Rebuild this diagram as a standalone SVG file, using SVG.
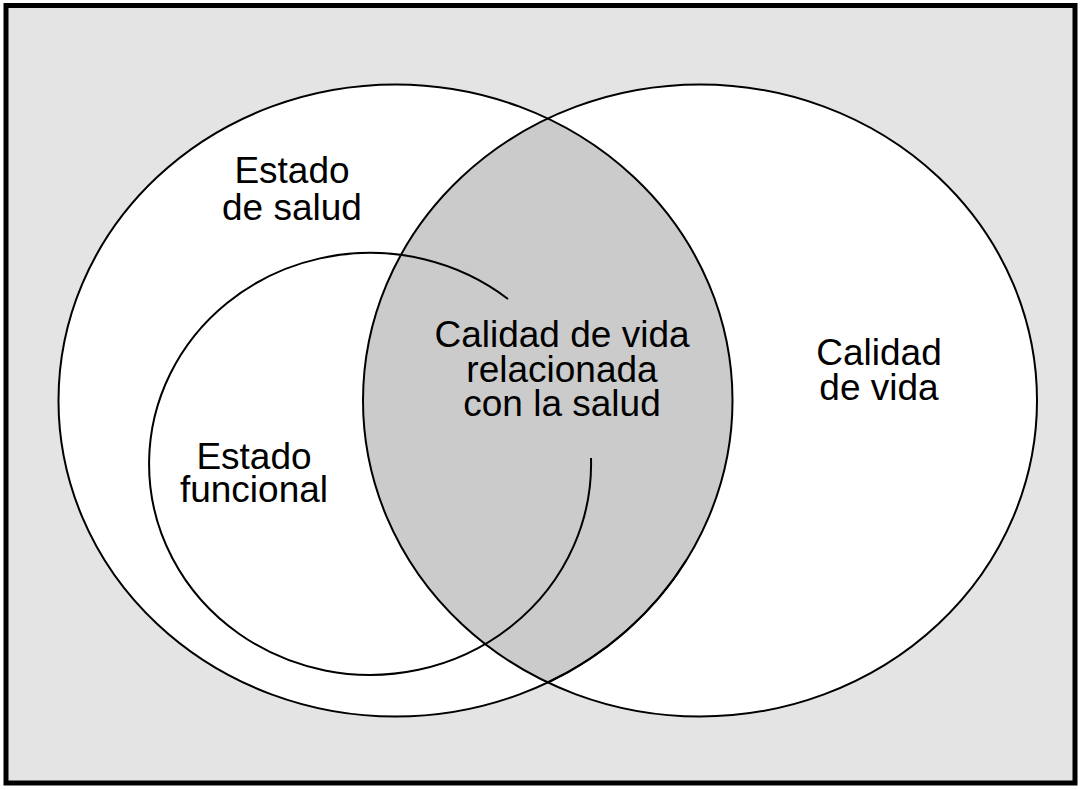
<svg xmlns="http://www.w3.org/2000/svg" width="1081" height="790" viewBox="0 0 1081 790">
<style>
.ln{fill:none;stroke:#000;stroke-width:2}
.lbl{font-family:"Liberation Sans",Arial,sans-serif;font-size:37px;fill:#000;text-anchor:middle}
</style>
<defs>
<clipPath id="clipL"><ellipse cx="395.5" cy="400.5" rx="337" ry="316"/></clipPath>
</defs>
<rect id="frame" x="6" y="5.5" width="1069" height="777.5" fill="#e4e4e4" stroke="#000" stroke-width="5"/>
<g id="fills">
<ellipse cx="395.5" cy="400.5" rx="337" ry="316" fill="#fff"/>
<ellipse cx="700" cy="400.5" rx="337" ry="316" fill="#fff"/>
<ellipse cx="700" cy="400.5" rx="337" ry="316" fill="#cbcbcb" clip-path="url(#clipL)"/>
</g>
<g id="estado-salud">
<ellipse class="ln" cx="395.5" cy="400.5" rx="337" ry="316"/>
<path class="ln" stroke-width="3" d="M686.4,560 A337,316 0 0 1 547.75,682.5"/>
<text class="lbl" x="292" y="183">Estado</text>
<text class="lbl" x="292" y="220">de salud</text>
</g>
<g id="calidad-vida">
<ellipse class="ln" cx="700" cy="400.5" rx="337" ry="316"/>
<text class="lbl" x="879" y="365">Calidad</text>
<text class="lbl" x="879" y="400">de vida</text>
</g>
<g id="estado-funcional">
<path class="ln" d="M508,299 A221,211 0 1 0 591,458"/>
<text class="lbl" x="254" y="469">Estado</text>
<text class="lbl" x="254" y="502">funcional</text>
</g>
<g id="cvrs">
<text class="lbl" x="562" y="347">Calidad de vida</text>
<text class="lbl" x="562" y="382">relacionada</text>
<text class="lbl" x="562" y="416">con la salud</text>
</g>
<g id="connectors"/>
</svg>
